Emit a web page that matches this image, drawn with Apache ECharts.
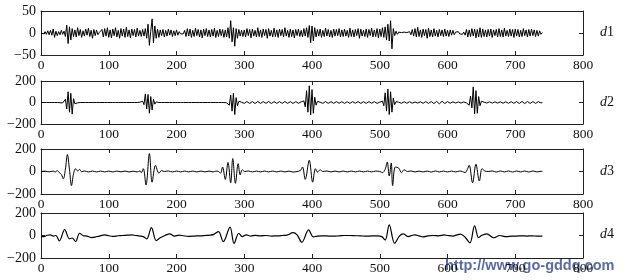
<!DOCTYPE html>
<html><head><meta charset="utf-8">
<script src="https://cdn.jsdelivr.net/npm/echarts@6/dist/echarts.min.js"></script>
<style>html,body{margin:0;padding:0;background:#fff}#c{width:623px;height:280px}</style>
</head><body><div id="c"></div>
<script>
// sampling step (x units) for d1 and d2
const STEP = 2;
const d1 = [
0,2,-2,3,-3,5,-4,6,-5,9,-10,4,-6,3,-4,6,-3,4,-8,18,-24,14,-16,10,-8,
7,-9,12,-6,8,-10,5,-7,9,-5,11,-8,6,-12,8,-6,7,-4,1,-1,8,-9,10,-7,12,
-10,7,-11,9,-6,12,-9,6,-12,10,-7,9,-10,13,-8,7,-11,9,-6,8,-9,11,-7,6,-8,
8,-7,10,-12,20,-28,4,32,-22,16,-12,9,-10,7,-6,8,-9,6,-7,9,-5,7,-8,5,-6,
7,-5,3,-2,1,-2,6,-8,10,-7,9,-10,6,-8,11,-6,8,-9,7,-11,9,-6,10,-8,7,
-9,8,-7,11,-10,6,-8,9,-6,8,-10,7,-9,12,-12,28,-20,12,-30,10,-12,8,-7,6,-8,
7,-9,10,-6,8,-11,9,-7,6,-9,12,-8,7,-10,9,-6,8,-12,10,-7,6,-9,11,-8,7,
-10,9,-6,8,-9,12,-7,6,-10,9,-8,7,-11,8,-6,9,-8,6,-9,10,-7,12,-10,17,-22,
16,-18,12,-9,8,-7,9,-10,6,-8,11,-7,8,-9,6,-10,9,-7,8,-6,10,-9,7,-8,9,
-7,6,-10,11,-8,7,-9,8,-6,10,-12,9,-7,6,-8,9,-10,8,-6,11,-9,7,-8,10,-11,
9,-8,12,-10,14,-16,20,-18,28,-36,10,-6,4,-3,2,-2,1,-1,2,-2,1,-1,3,-4,8,
-7,10,-9,13,-8,7,-10,9,-6,8,-12,11,-8,7,-9,10,-7,6,-9,8,-6,7,-8,9,-7,
6,-8,7,-5,6,-4,2,-2,3,-2,2,-3,2,-5,8,-9,7,-8,10,-7,9,-11,8,-9,12,
-10,9,-8,7,-9,8,-7,9,-10,7,-6,8,-9,10,-8,7,-9,11,-7,6,-8,9,-7,8,-10,
9,-7,8,-9,6,-8,10,-6,7,-9,8,-7,9,-6,7,-8,6,-7,5,-3,1
];
const d2 = [
0,4,0,-6,0,6,0,-7,0,7,0,-7,0,6,-2,3,-4,-8,30,-60,100,-90,85,-108,35,
-12,6,-3,8,0,-8,0,8,0,-8,0,7,0,-8,0,8,0,-7,0,8,0,-8,0,8,0,
-8,0,7,0,-8,0,8,0,-8,0,7,0,-8,0,8,0,-8,0,8,0,-8,0,9,3,-5,
12,-20,80,-60,75,-100,55,-70,30,-15,6,-3,0,10,0,-10,0,11,0,-11,0,11,0,-11,0,
11,0,-11,0,12,0,-11,0,11,0,-12,0,11,0,-11,0,12,0,-11,0,11,0,-11,0,12,
0,-11,0,11,0,-11,0,10,0,-10,0,6,-3,10,-25,70,-80,85,-112,45,-30,12,-5,3,0,
-8,0,9,0,-9,0,8,0,-9,0,9,0,-8,0,8,0,-8,0,9,0,-9,0,8,0,-8,
0,8,0,-8,0,9,0,-8,0,8,0,-9,0,8,0,-8,0,6,-4,15,-40,110,-90,155,-115,
120,-100,50,-25,10,-4,3,0,-8,0,8,0,-8,0,8,0,-8,0,8,0,-7,0,8,0,-8,
0,7,0,-8,0,8,0,-7,0,8,0,-8,0,7,0,-8,0,8,0,-7,0,8,0,-8,0,
3,-4,12,-30,90,-80,125,-112,100,-90,40,-20,8,-4,3,0,-7,0,7,0,-7,0,7,0,-7,
0,5,0,-6,0,6,0,-7,0,8,0,-8,0,9,0,-10,0,10,0,-12,0,12,0,-10,0,
8,0,-7,0,6,0,-5,0,5,0,-5,0,5,0,-4,10,-25,60,-50,145,-105,110,-100,55,-30,
12,-5,3,0,-5,0,6,0,-6,0,6,0,-6,0,6,0,-7,0,7,0,-7,0,8,0,-8,
0,8,0,-9,0,10,0,-10,0,10,0,-9,0,9,0,-8,0,8,0,-4,0
];
const d3 = [[0,0],[6,3],[12,-3],[18,4],[21,-5],[24,8],[27,-10],[30,-25],[33,-65],[36,20],[39,150],[42,20],[45,-125],[48,-20],[51,25],[54,5],[57,18],[60,-2],[64,5],[70,-4],[76,4],[82,-4],[88,4],[94,-4],[100,4],[106,-4],[112,4],[118,-3],[124,4],[130,-4],[136,3],[142,-4],[146,5],[148,-10],[151,25],[155,-120],[160,160],[164,-95],[169,55],[174,-15],[178,8],[182,0],[188,5],[194,-4],[200,4],[206,-4],[212,4],[218,-4],[224,4],[230,-4],[236,4],[242,-4],[248,4],[254,-4],[258,3],[262,0],[265,-15],[268,40],[272,-70],[276,80],[280,-100],[283,115],[287,-105],[291,70],[294,-30],[297,15],[301,0],[306,5],[312,-4],[318,4],[324,-4],[330,4],[336,-4],[342,4],[348,-4],[354,4],[360,-4],[366,4],[372,-5],[378,0],[383,10],[386,40],[390,-70],[396,100],[401,-95],[405,25],[408,-5],[412,15],[416,0],[422,5],[428,-4],[434,4],[440,-4],[446,4],[452,-4],[458,4],[464,-4],[470,4],[476,-4],[482,4],[488,-4],[494,4],[500,0],[504,-10],[508,20],[511,85],[514,-40],[517,75],[519,-125],[523,40],[528,30],[532,-10],[536,15],[541,0],[546,5],[552,-4],[558,4],[564,-4],[570,4],[576,-5],[582,5],[588,-4],[594,4],[600,-4],[606,4],[612,-4],[618,4],[622,0],[626,-10],[629,15],[632,55],[637,-100],[642,65],[647,-85],[651,25],[655,5],[660,0],[666,5],[672,-5],[678,5],[684,-4],[690,5],[696,-5],[702,5],[708,-4],[714,5],[720,-5],[726,5],[732,-4],[738,2],[740,0]];
const d4 = [[0,-8],[4,-10],[9,2],[14,5],[18,-5],[22,0],[27,-48],[35,52],[42,-30],[46,-22],[51,-54],[57,20],[63,-3],[68,-5],[74,-18],[80,-14],[86,-5],[94,5],[100,-2],[106,-8],[114,-2],[120,0],[128,3],[134,5],[140,0],[146,-5],[151,-10],[156,-30],[163,70],[170,-45],[176,-20],[183,0],[190,15],[197,-5],[204,3],[210,-2],[218,-8],[226,-5],[234,-3],[242,0],[249,3],[255,10],[262,35],[269,-55],[279,75],[285,-70],[292,20],[297,-10],[303,5],[310,-5],[316,2],[324,-3],[332,0],[340,-5],[348,-3],[356,0],[363,3],[372,25],[378,5],[385,-60],[395,50],[402,-12],[408,-5],[415,-3],[425,-5],[432,-6],[440,-3],[448,0],[456,0],[464,-2],[472,-3],[480,-6],[488,-4],[496,-3],[503,-10],[508,-40],[514,95],[522,-70],[529,-5],[535,15],[542,-10],[548,2],[552,5],[558,-3],[564,-12],[571,-3],[579,0],[587,-3],[595,5],[600,0],[608,-5],[614,5],[619,12],[626,-15],[633,-66],[640,85],[646,-20],[650,0],[658,15],[668,-20],[677,0],[687,-10],[695,-5],[702,-5],[710,-3],[717,-5],[725,-3],[733,-6],[740,-5]];

const NAMES = ['d1','d2','d3','d4'];
const Y_LIMITS = [50, 200, 200, 200];
const X_MIN = 0, X_MAX = 800, X_INTERVAL = 100;

const seriesData = [
  d1.map((v, i) => [i * STEP, v]),
  d2.map((v, i) => [i * STEP, v]),
  d3, d4
];

const panels = [
  {top: 11, height: 44},
  {top: 81, height: 43},
  {top: 149, height: 45},
  {top: 213, height: 45}
];
const FONT = 'Liberation Serif';
const INK = '#111';
const minus = v => String(v).replace('-', '\u2212');

const grid = [], xAxis = [], yAxis = [], series = [];
panels.forEach((p, i) => {
  grid.push({left: 41, right: 40, top: p.top, height: p.height, containLabel: false});
  const axLine = {show: true, onZero: false, lineStyle: {color: '#222', width: 1}};
  const tick = {show: true, inside: true, length: 4, lineStyle: {color: '#222'}};
  xAxis.push({type: 'value', gridIndex: i, min: X_MIN, max: X_MAX, interval: X_INTERVAL, position: 'bottom',
    axisLine: axLine, axisTick: tick,
    axisLabel: {show: true, margin: 3, fontFamily: FONT, fontSize: 13.5, color: INK},
    splitLine: {show: false}});
  xAxis.push({type: 'value', gridIndex: i, min: X_MIN, max: X_MAX, interval: X_INTERVAL, position: 'top',
    axisLine: axLine, axisTick: tick,
    axisLabel: {show: false}, splitLine: {show: false}});
  const L = Y_LIMITS[i];
  yAxis.push({type: 'value', gridIndex: i, min: -L, max: L, interval: L, position: 'left',
    axisLine: axLine, axisTick: tick,
    axisLabel: {show: true, margin: 5, fontFamily: FONT, fontSize: 14, color: INK, formatter: minus},
    splitLine: {show: false}});
  yAxis.push({type: 'value', gridIndex: i, min: -L, max: L, interval: L, position: 'right',
    axisLine: axLine, axisTick: tick,
    axisLabel: {show: false}, splitLine: {show: false}});
  series.push({type: 'line', name: NAMES[i], xAxisIndex: i * 2, yAxisIndex: i * 2, data: seriesData[i],
    showSymbol: false, symbol: 'none', clip: true, sampling: null,
    smooth: i >= 2 ? 0.35 : false,
    lineStyle: {color: '#000', width: i === 3 ? 1.2 : 1}});
});

const centers = [33, 103, 172, 235];
const graphic = centers.map((cy, i) => ({
  type: 'text', left: 600, top: cy - 8,
  style: {text: '{i|d}{n|' + NAMES[i].slice(1) + '}', rich: {
    i: {fontFamily: FONT, fontStyle: 'italic', fontSize: 14, fill: INK},
    n: {fontFamily: FONT, fontSize: 14, fill: INK}}}
}));
graphic.push({type: 'text', left: 445, top: 258,
  style: {text: 'http://www.go-gddq.com', fontFamily: 'Liberation Sans', fontWeight: 'bold', fontSize: 14.5, fill: 'rgba(72,92,150,0.9)'}});

const chart = echarts.init(document.getElementById('c'), null, {renderer: 'canvas'});
chart.setOption({animation: false, backgroundColor: '#fff', grid, xAxis, yAxis, series, graphic});
</script>
</body></html>
